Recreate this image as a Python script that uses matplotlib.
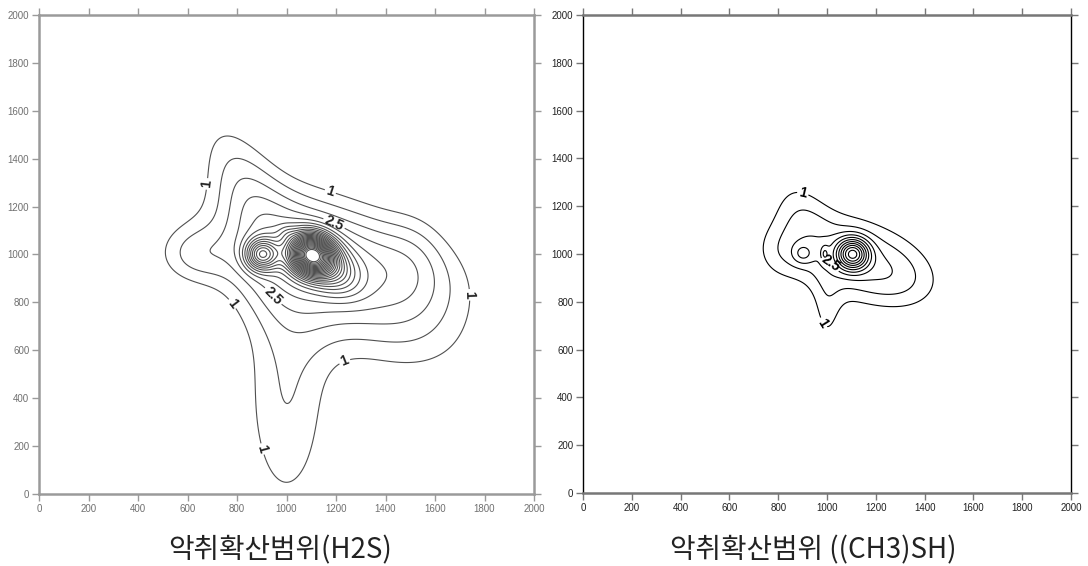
import numpy as np
import matplotlib
matplotlib.use("Agg")
import matplotlib.pyplot as plt

plt.rcParams['font.family'] = ['Liberation Sans', 'DejaVu Sans']

# Grid of the modelled area (m)
grid_x = np.linspace(0, 2000, 401)
grid_y = np.linspace(0, 2000, 401)
ticks = [0, 200, 400, 600, 800, 1000, 1200, 1400, 1600, 1800, 2000]

# H2S emission plumes: centre, peak, spread along/across, heading (deg)
h2s_x = [1060, 1100, 1170, 900, 1000, 830, 1420, 1480, 1520, 1000, 620]
h2s_y = [990, 1000, 950, 1000, 1090, 1300, 980, 720, 1000, 400, 1000]
h2s_amp = [2.5, 10.0, 3.0, 4.5, 0.5, 1.3, 1.0, 1.2, 0.4, 1.47, 1.1]
h2s_sx = [290, 60, 90, 45, 25, 240, 260, 250, 90, 139, 110]
h2s_sy = [190, 55, 60, 45, 25, 100, 140, 190, 150, 400, 90]
h2s_ang = [-20, -30, -40, 0, 0, 115, -15, -25, 0, 0, 0]
h2s_levels = [1, 1.5, 2, 2.5, 3, 3.5, 4, 4.5, 5, 5.5, 6, 6.5, 7, 7.5, 8,
              8.5, 9, 9.5, 10, 10.5, 11, 11.5, 12, 12.5, 13, 13.5, 14, 14.5]
h2s_labels = {1: [(720, 1290), (1170, 1240), (815, 820), (1700, 830),
                  (1200, 640), (910, 190)],
              2.5: [(1170, 1080), (960, 840)]}

# (CH3)SH emission plumes
mm_x = [1080, 1105, 900, 990, 1000, 1300, 890, 800]
mm_y = [990, 1000, 1000, 1000, 730, 890, 1190, 1000]
mm_amp = [1.9, 4.2, 0.9, 0.9, 0.85, 0.7, 0.75, 0.5]
mm_sx = [240, 45, 30, 12, 45, 140, 80, 70]
mm_sy = [140, 45, 30, 25, 120, 100, 130, 80]
mm_ang = [-15, 0, 0, 0, 0, -20, 20, 0]
mm_levels = [1, 1.5, 2, 2.5, 3, 3.5, 4, 4.5, 5, 5.5, 6]
mm_labels = {1: [(900, 1250), (980, 710)],
             2.5: [(1030, 980)]}


def plume_field(xs, ys, amps, sxs, sys_, angs):
    X, Y = np.meshgrid(grid_x, grid_y)
    Z = np.zeros_like(X)
    for x0, y0, a, sx, sy, ang in zip(xs, ys, amps, sxs, sys_, angs):
        t = np.deg2rad(ang)
        u = (X - x0) * np.cos(t) + (Y - y0) * np.sin(t)
        v = -(X - x0) * np.sin(t) + (Y - y0) * np.cos(t)
        Z += a * np.exp(-0.5 * ((u / sx) ** 2 + (v / sy) ** 2))
    return X, Y, Z


def draw_contours(ax, X, Y, Z, levels, labels, color, label_color):
    plain = [v for v in levels if v not in labels]
    ax.contour(X, Y, Z, levels=plain, colors=color, linewidths=0.8)
    for lev, spots in labels.items():
        cs = ax.contour(X, Y, Z, levels=[lev], colors=color, linewidths=0.8)
        ax.clabel(cs, manual=spots, fmt=lambda v: f"{v:g}", fontsize=10,
                  colors=label_color, inline=True, inline_spacing=2)
        for t in cs.labelTexts:
            t.set_fontweight('bold')


def style_axes(ax, side_color, tb_color, side_lw, tb_lw, label_color):
    ax.set_xlim(0, 2000)
    ax.set_ylim(0, 2000)
    ax.set_xticks(ticks)
    ax.set_yticks(ticks)
    ax.tick_params(direction='out', length=5, width=1, labelsize=7,
                   top=True, right=True, labelcolor=label_color,
                   color=tb_color, pad=2)
    for s in ('left', 'right'):
        ax.spines[s].set_color(side_color)
        ax.spines[s].set_linewidth(side_lw)
    for s in ('top', 'bottom'):
        ax.spines[s].set_color(tb_color)
        ax.spines[s].set_linewidth(tb_lw)


fig = plt.figure(figsize=(10.88, 5.66), dpi=100)

# Left panel: H2S
ax1 = fig.add_axes([39 / 1088, 72 / 566, 495 / 1088, 479 / 566])
X, Y, Z = plume_field(h2s_x, h2s_y, h2s_amp, h2s_sx, h2s_sy, h2s_ang)
draw_contours(ax1, X, Y, Z, h2s_levels, h2s_labels, '#505050', '#222222')
style_axes(ax1, '#9a9a9a', '#9a9a9a', 1.8, 1.8, '#707070')

# Right panel: (CH3)SH
ax2 = fig.add_axes([583 / 1088, 73 / 566, 488 / 1088, 478 / 566])
X, Y, Z = plume_field(mm_x, mm_y, mm_amp, mm_sx, mm_sy, mm_ang)
draw_contours(ax2, X, Y, Z, mm_levels, mm_labels, 'black', 'black')
style_axes(ax2, 'black', '#777777', 1.0, 1.8, '#222222')

cap_font = ['Noto Sans CJK KR', 'DejaVu Sans']
fig.text(280 / 1088, 1 - 550 / 566, '악취확산범위(H2S)', ha='center', va='center',
         fontsize=20, family=cap_font, color='#222222')
fig.text(813 / 1088, 1 - 550 / 566, '악취확산범위 ((CH3)SH)', ha='center',
         va='center', fontsize=20, family=cap_font, color='#222222')

fig.savefig('out.png', dpi=100)
